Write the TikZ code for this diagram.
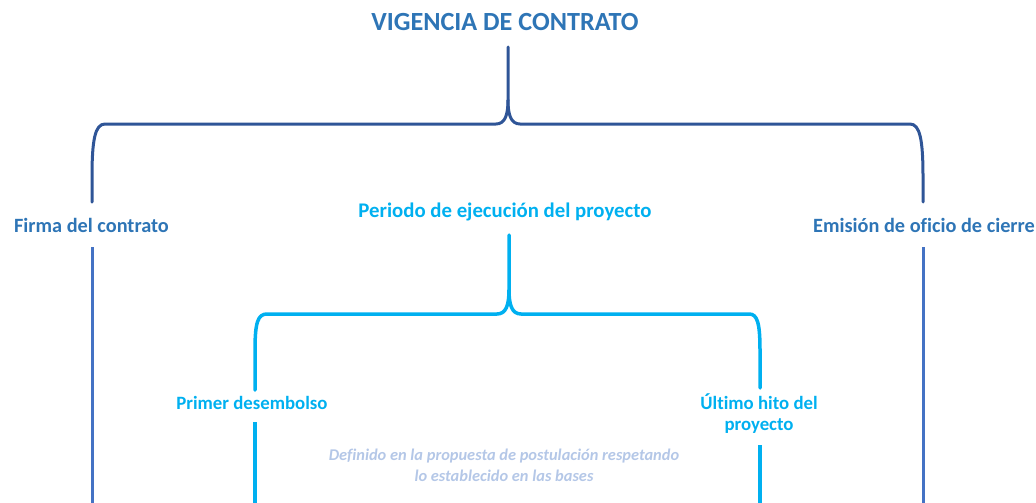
\documentclass[tikz,border=0pt]{standalone}
\usepackage{fontspec}
\setmainfont[Ligatures=NoCommon]{Carlito}
\definecolor{titleblue}{HTML}{2E75B6}
\definecolor{bracedark}{HTML}{2F5597}
\definecolor{linemid}{HTML}{4472C4}
\definecolor{cyanb}{HTML}{00B0F0}
\definecolor{notec}{HTML}{B4C7E7}
\tikzset{
  titletxt/.style={font=\fontsize{26.2}{30}\selectfont\bfseries, text=titleblue, inner sep=0pt},
  outerlbl/.style={font=\fontsize{20.3}{24}\selectfont\bfseries, text=titleblue, inner sep=0pt},
  periodlbl/.style={font=\fontsize{20.8}{24}\selectfont\bfseries, text=cyanb, inner sep=0pt},
  innerlbl/.style={font=\fontsize{18.8}{21}\selectfont\bfseries, text=cyanb, inner sep=0pt, align=center},
  notetxt/.style={font=\fontsize{16.4}{21}\selectfont\itshape\bfseries, text=notec, inner sep=0pt, align=center},
  outerbrace/.style={draw=bracedark, line width=3pt, line cap=round, line join=round},
  outerline/.style={draw=linemid, line width=3pt},
  innerbrace/.style={draw=cyanb, line width=3.5pt, line cap=round, line join=round},
  innerline/.style={draw=cyanb, line width=3.5pt},
}
\begin{document}
\begin{tikzpicture}[x=1pt,y=-1pt]
\path[use as bounding box] (0,0) rectangle (1036,503);

% labels
\node[titletxt] (title) at (505,21.5) {VIGENCIA DE CONTRATO};
\node[outerlbl] (firma) at (91.5,225) {Firma del contrato};
\node[outerlbl] (emision) at (924,225) {Emisión de oficio de cierre};
\node[periodlbl] (periodo) at (505,212) {Periodo de ejecución del proyecto};
\node[innerlbl] (primer) at (252,403) {Primer desembolso};
\node[innerlbl] (ultimo) at (759,414) {Último hito del\\proyecto};
\node[notetxt] (nota) at (504,465) {Definido en la propuesta de postulación respetando\\lo establecido en las bases};

% coordinates
\coordinate (otip) at (508,47);
\coordinate (oL) at (92,202);
\coordinate (oR) at (923,202);
\coordinate (oLb) at (92,503);
\coordinate (oRb) at (923,503);
\coordinate (itip) at (509,235);
\coordinate (iL) at (255,390);
\coordinate (iR) at (760,388);
\coordinate (iLb) at (255,503);
\coordinate (iRb) at (760,503);

% outer brace
\draw[outerbrace] (oL) -- (92,177) .. controls (92,140) and (95,124) .. (105,124)
  -- (496,124) .. controls (505,124) and (508,115) .. (508,100) -- (otip);
\draw[outerbrace] (oR) -- (923,177) .. controls (923,140) and (920,124) .. (910,124)
  -- (520,124) .. controls (511,124) and (508,115) .. (508,100);

% outer lower lines
\draw[outerline] (92,247) -- (oLb);
\draw[outerline] (923,247) -- (oRb);

% inner brace
\draw[innerbrace] (iL) -- (255,350) .. controls (255,322) and (258,314) .. (267,314)
  -- (497,314) .. controls (506,314) and (509,305) .. (509,290) -- (itip);
\draw[innerbrace] (iR) -- (760,350) .. controls (760,322) and (757,314) .. (749,314)
  -- (521,314) .. controls (512,314) and (509,305) .. (509,290);

% inner lower lines
\draw[innerline] (255,422) -- (iLb);
\draw[innerline] (760,445) -- (iRb);
\end{tikzpicture}
\end{document}
